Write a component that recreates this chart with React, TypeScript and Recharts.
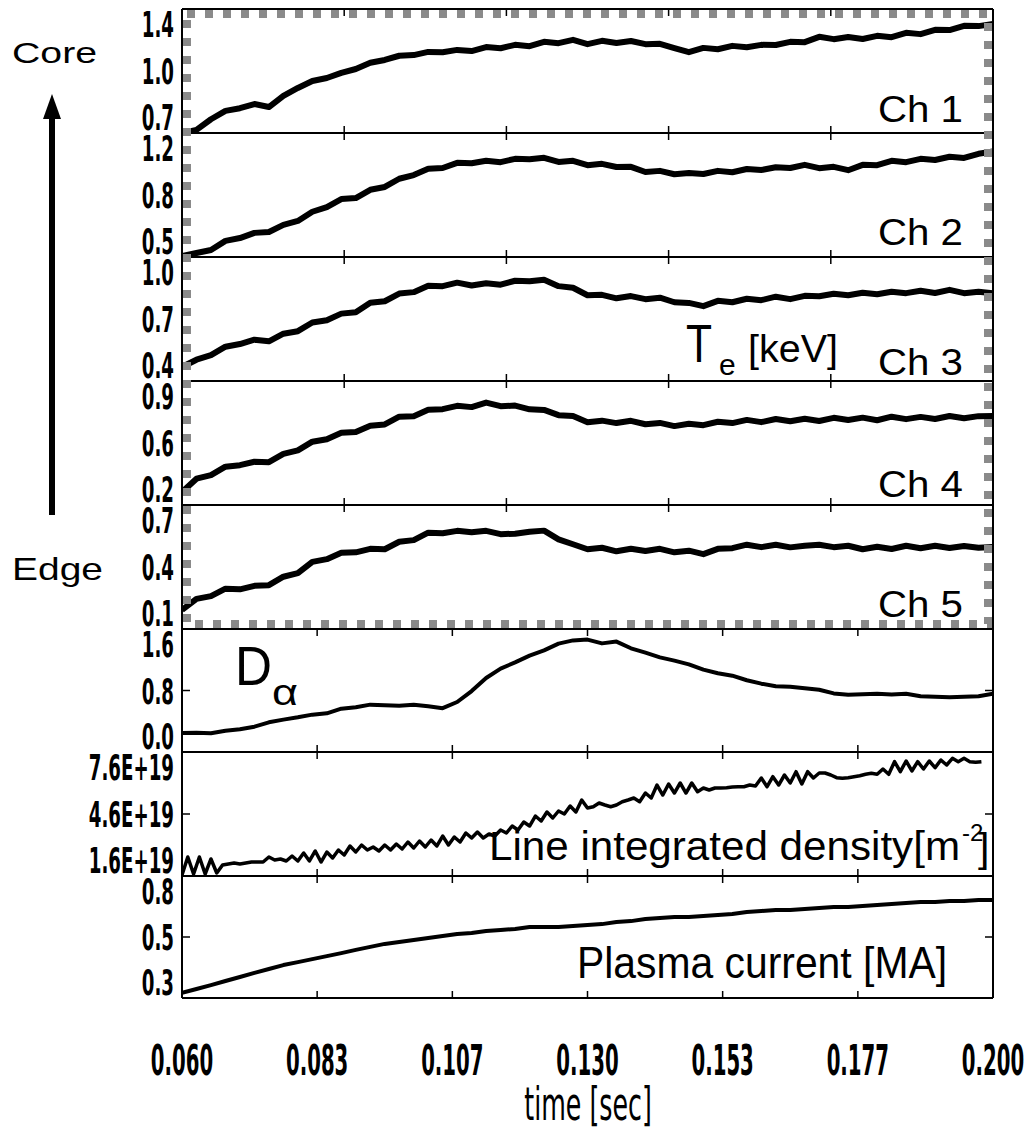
import React from 'react';
import { Line, LineChart, ReferenceLine, XAxis, YAxis } from 'recharts';

// sample times [s]
const time = [
  0.06, 0.0625, 0.065, 0.0675, 0.07, 0.0725, 0.075, 0.0775, 0.08, 0.0825,
  0.085, 0.0875, 0.09, 0.0925, 0.095, 0.0975, 0.1, 0.1025, 0.105, 0.1075,
  0.11, 0.1125, 0.115, 0.1175, 0.12, 0.1225, 0.125, 0.1275, 0.13, 0.1325,
  0.135, 0.1375, 0.14, 0.1425, 0.145, 0.1475, 0.15, 0.1525, 0.155, 0.1575,
  0.16, 0.1625, 0.165, 0.1675, 0.17, 0.1725, 0.175, 0.1775, 0.18, 0.1825,
  0.185, 0.1875, 0.19, 0.1925, 0.195, 0.1975, 0.2,
];

// interferometer is sampled on its own grid
const densityTime = [
  0.06, 0.061, 0.062, 0.063, 0.064, 0.065, 0.066, 0.067, 0.068, 0.069,
  0.07, 0.071, 0.072, 0.073, 0.074, 0.075, 0.076, 0.077, 0.078, 0.079,
  0.08, 0.081, 0.082, 0.083, 0.084, 0.085, 0.086, 0.087, 0.088, 0.089,
  0.09, 0.091, 0.092, 0.093, 0.094, 0.095, 0.096, 0.097, 0.098, 0.099,
  0.1, 0.101, 0.102, 0.103, 0.104, 0.105, 0.106, 0.107, 0.108, 0.109,
  0.11, 0.111, 0.112, 0.113, 0.114, 0.115, 0.116, 0.117, 0.118, 0.119,
  0.12, 0.121, 0.122, 0.123, 0.124, 0.125, 0.126, 0.127, 0.128, 0.129,
  0.13, 0.131, 0.132, 0.133, 0.134, 0.135, 0.136, 0.137, 0.138, 0.139,
  0.14, 0.141, 0.142, 0.143, 0.144, 0.145, 0.146, 0.147, 0.148, 0.149,
  0.15, 0.151, 0.152, 0.153, 0.154, 0.155, 0.156, 0.157, 0.158, 0.159,
  0.16, 0.161, 0.162, 0.163, 0.164, 0.165, 0.166, 0.167, 0.168, 0.169,
  0.17, 0.171, 0.172, 0.173, 0.174, 0.175, 0.176, 0.177, 0.178, 0.179,
  0.18, 0.181, 0.182, 0.183, 0.184, 0.185, 0.186, 0.187, 0.188, 0.189,
  0.19, 0.191, 0.192, 0.193, 0.194, 0.195, 0.196, 0.197, 0.198,
];

// Te [keV], ECE channels core -> edge
const ch1Te = [
  0.66, 0.679, 0.742, 0.792, 0.808, 0.833, 0.815, 0.881, 0.929, 0.97,
  0.988, 1.019, 1.042, 1.079, 1.096, 1.121, 1.125, 1.144, 1.142, 1.156,
  1.149, 1.173, 1.166, 1.186, 1.178, 1.204, 1.196, 1.216, 1.19, 1.21,
  1.197, 1.209, 1.19, 1.192, 1.166, 1.142, 1.168, 1.16, 1.18, 1.172,
  1.186, 1.185, 1.204, 1.202, 1.234, 1.22, 1.233, 1.221, 1.24, 1.232,
  1.258, 1.25, 1.276, 1.274, 1.3, 1.298, 1.311,
];
const ch2Te = [
  0.466, 0.484, 0.502, 0.556, 0.573, 0.604, 0.609, 0.652, 0.675, 0.73,
  0.758, 0.806, 0.812, 0.861, 0.878, 0.927, 0.949, 0.986, 0.991, 1.022,
  1.019, 1.034, 1.026, 1.046, 1.044, 1.052, 1.027, 1.034, 1.008, 1.016,
  0.997, 0.998, 0.967, 0.974, 0.954, 0.961, 0.955, 0.974, 0.966, 0.985,
  0.979, 0.996, 0.991, 1.01, 0.99, 0.998, 0.978, 1.01, 1.008, 1.034,
  1.026, 1.046, 1.039, 1.058, 1.051, 1.076, 1.09,
];
const ch3Te = [
  0.468, 0.503, 0.525, 0.566, 0.579, 0.6, 0.592, 0.629, 0.641, 0.683,
  0.694, 0.726, 0.733, 0.779, 0.786, 0.823, 0.83, 0.861, 0.859, 0.876,
  0.862, 0.873, 0.866, 0.885, 0.883, 0.89, 0.859, 0.851, 0.815, 0.817,
  0.8, 0.811, 0.796, 0.803, 0.781, 0.778, 0.762, 0.788, 0.781, 0.798,
  0.791, 0.808, 0.796, 0.812, 0.81, 0.822, 0.815, 0.827, 0.82, 0.832,
  0.825, 0.837, 0.826, 0.841, 0.825, 0.832, 0.824,
];
const ch4Te = [
  0.309, 0.38, 0.399, 0.444, 0.452, 0.47, 0.468, 0.512, 0.531, 0.577,
  0.59, 0.625, 0.628, 0.662, 0.669, 0.71, 0.713, 0.747, 0.75, 0.768,
  0.761, 0.785, 0.766, 0.769, 0.749, 0.746, 0.718, 0.714, 0.681, 0.689,
  0.676, 0.688, 0.67, 0.677, 0.66, 0.672, 0.665, 0.683, 0.676, 0.693,
  0.681, 0.698, 0.686, 0.699, 0.687, 0.704, 0.692, 0.705, 0.691, 0.71,
  0.697, 0.709, 0.698, 0.714, 0.702, 0.713, 0.714,
];
const ch5Te = [
  0.192, 0.246, 0.259, 0.295, 0.292, 0.309, 0.312, 0.353, 0.37, 0.425,
  0.438, 0.469, 0.471, 0.488, 0.486, 0.522, 0.53, 0.566, 0.563, 0.575,
  0.568, 0.575, 0.559, 0.561, 0.571, 0.576, 0.534, 0.51, 0.486, 0.493,
  0.476, 0.488, 0.477, 0.488, 0.471, 0.479, 0.462, 0.488, 0.491, 0.508,
  0.496, 0.508, 0.495, 0.503, 0.508, 0.496, 0.503, 0.486, 0.498, 0.487,
  0.503, 0.491, 0.503, 0.492, 0.502, 0.493, 0.497,
];
const dAlpha = [
  0.247, 0.25, 0.245, 0.276, 0.296, 0.329, 0.386, 0.421, 0.451, 0.486,
  0.503, 0.563, 0.581, 0.616, 0.607, 0.602, 0.615, 0.594, 0.57, 0.65,
  0.793, 0.963, 1.085, 1.166, 1.253, 1.322, 1.41, 1.452, 1.462, 1.413,
  1.436, 1.349, 1.292, 1.231, 1.188, 1.14, 1.071, 1.024, 0.993, 0.933,
  0.889, 0.855, 0.85, 0.829, 0.81, 0.762, 0.745, 0.75, 0.758, 0.749,
  0.757, 0.724, 0.719, 0.711, 0.718, 0.725, 0.758,
];
// line integrated density in 1E+19 m^-2
const densityE19 = [
  1.648, 2.519, 1.697, 2.519, 1.697, 2.423, 1.745, 2.132, 2.181, 2.229,
  2.181, 2.229, 2.277, 2.277, 2.277, 2.519, 2.374, 2.423, 2.326, 2.568,
  2.326, 2.713, 2.326, 2.81, 2.277, 2.761, 2.471, 2.858, 2.616, 3.052,
  2.761, 3.1, 2.858, 3.003, 2.81, 3.1, 2.858, 3.148, 2.906, 3.245,
  2.955, 3.294, 3.003, 3.342, 3.052, 3.535, 3.1, 3.487, 3.245, 3.681,
  3.439, 3.729, 3.439, 3.632, 3.535, 3.826, 3.681, 4.019, 3.826, 4.213,
  4.019, 4.503, 4.261, 4.697, 4.406, 4.745, 4.6, 4.987, 4.697, 5.277,
  4.89, 4.953, 5.132, 5.035, 4.953, 5.035, 5.195, 5.277, 5.374, 5.195,
  5.616, 5.374, 6.003, 5.519, 6.052, 5.616, 6.1, 5.616, 6.1, 5.679,
  5.858, 5.761, 5.858, 5.858, 5.873, 5.906, 5.921, 5.921, 6.003, 5.955,
  6.342, 5.921, 6.405, 6.003, 6.487, 6.1, 6.647, 6.052, 6.647, 6.342,
  6.584, 6.584, 6.487, 6.356, 6.327, 6.356, 6.405, 6.453, 6.521, 6.569,
  6.521, 6.777, 6.521, 7.131, 6.647, 7.165, 6.681, 7.131, 6.777, 7.165,
  6.84, 7.213, 6.971, 7.295, 7.131, 7.295, 7.131, 7.102, 7.131,
];
const plasmaCurrentMA = [
  0.292, 0.309, 0.326, 0.344, 0.361, 0.379, 0.396, 0.413, 0.426, 0.439,
  0.452, 0.465, 0.479, 0.492, 0.505, 0.513, 0.522, 0.531, 0.539, 0.548,
  0.552, 0.561, 0.565, 0.57, 0.578, 0.578, 0.578, 0.583, 0.587, 0.591,
  0.6, 0.604, 0.613, 0.618, 0.622, 0.622, 0.626, 0.631, 0.635, 0.644,
  0.648, 0.652, 0.652, 0.657, 0.661, 0.665, 0.665, 0.67, 0.674, 0.678,
  0.683, 0.687, 0.687, 0.691, 0.691, 0.696, 0.696,
];

// axis ticks and labels
const xTicks = [0.06, 0.08333, 0.10667, 0.13, 0.15333, 0.17667, 0.2];
const xTickLabels = ['0.060', '0.083', '0.107', '0.130', '0.153', '0.177', '0.200'];
const teXTicks = [0.06, 0.088, 0.116, 0.144, 0.172, 0.2];

const ch1Ticks = [0.66, 1.03, 1.4];
const ch1Labels = ['0.7', '1.0', '1.4'];
const ch2Ticks = [0.46, 0.83, 1.2];
const ch2Labels = ['0.5', '0.8', '1.2'];
const ch3Ticks = [0.4, 0.7, 1.0];
const ch3Labels = ['0.4', '0.7', '1.0'];
const ch4Ticks = [0.24, 0.57, 0.9];
const ch4Labels = ['0.2', '0.6', '0.9'];
const ch5Ticks = [0.1, 0.4, 0.7];
const ch5Labels = ['0.1', '0.4', '0.7'];
const dAlphaTicks = [0, 0.8, 1.6];
const dAlphaLabels = ['0.0', '0.8', '1.6'];
const densityTicks = [1.6, 4.6, 7.6];
const densityLabels = ['1.6E+19', '4.6E+19', '7.6E+19'];
const currentTicks = [0.27, 0.535, 0.8];
const currentLabels = ['0.3', '0.5', '0.8'];

const rows = (ts: number[], vs: number[]) => ts.map((t, i) => ({ t, v: vs[i] }));

const T0 = 0.06;
const T1 = 0.2;
const CHART_W = 1033;
const AXIS_W = 182;
const RIGHT = 40;
const PLOT_W = CHART_W - AXIS_W - RIGHT;
const PAD = 6;
const X_LABEL_H = 135;
const TICK_LEN = 7;
const tickFont = 'DejaVu Sans, Verdana, sans-serif';
const textFont = 'Liberation Sans, Arial, Helvetica, sans-serif';

interface Panel {
  id: string;
  top: number;
  bottom: number;
  data: { t: number; v: number }[];
  ticks: number[];
  labels: string[];
  xTicks: number[];
  midTicks: boolean;
  lineWidth: number;
  last?: boolean;
}

const panels: Panel[] = [
  { id: 'ch1', top: 9, bottom: 133, data: rows(time, ch1Te), ticks: ch1Ticks, labels: ch1Labels, xTicks: teXTicks, midTicks: false, lineWidth: 6 },
  { id: 'ch2', top: 133, bottom: 257, data: rows(time, ch2Te), ticks: ch2Ticks, labels: ch2Labels, xTicks: teXTicks, midTicks: false, lineWidth: 6 },
  { id: 'ch3', top: 257, bottom: 381, data: rows(time, ch3Te), ticks: ch3Ticks, labels: ch3Labels, xTicks: teXTicks, midTicks: false, lineWidth: 6 },
  { id: 'ch4', top: 381, bottom: 505, data: rows(time, ch4Te), ticks: ch4Ticks, labels: ch4Labels, xTicks: teXTicks, midTicks: false, lineWidth: 6 },
  { id: 'ch5', top: 505, bottom: 629, data: rows(time, ch5Te), ticks: ch5Ticks, labels: ch5Labels, xTicks: teXTicks, midTicks: false, lineWidth: 6 },
  { id: 'da', top: 629, bottom: 752, data: rows(time, dAlpha), ticks: dAlphaTicks, labels: dAlphaLabels, xTicks: xTicks, midTicks: true, lineWidth: 4 },
  { id: 'ne', top: 752, bottom: 876, data: rows(densityTime, densityE19), ticks: densityTicks, labels: densityLabels, xTicks: xTicks, midTicks: true, lineWidth: 3.5 },
  { id: 'ip', top: 876, bottom: 998, data: rows(time, plasmaCurrentMA), ticks: currentTicks, labels: currentLabels, xTicks: xTicks, midTicks: true, lineWidth: 4, last: true },
];

const YLabel = (props: any) => {
  const { y, payload, ticks, labels } = props;
  const i = ticks.findIndex((v: number) => Math.abs(v - payload.value) < 1e-9);
  if (i < 0) return null;
  // end labels sit inside the panel, as in the original plot
  let base = y + 13;
  if (i === 0) base = y - 3;
  if (i === ticks.length - 1) base = y + 28;
  return (
    <text
      transform={`translate(174, ${base}) scale(0.52, 1)`}
      textAnchor="end"
      fontFamily={tickFont}
      fontWeight="bold"
      fontSize={35}
      fill="#000"
    >
      {labels[i]}
    </text>
  );
};

const XLabel = (props: any) => {
  const { x, y, payload } = props;
  const i = xTicks.findIndex((v) => Math.abs(v - payload.value) < 1e-9);
  if (i < 0) return null;
  return (
    <text
      transform={`translate(${x}, ${y + 47}) scale(0.47, 1)`}
      textAnchor="middle"
      fontFamily={tickFont}
      fontWeight="bold"
      fontSize={42}
      fill="#000"
    >
      {xTickLabels[i]}
    </text>
  );
};

const PanelChart = ({ p }: { p: Panel }) => {
  const h = p.bottom - p.top;
  const extra = p.last ? X_LABEL_H : 0;
  const lo = p.ticks[0];
  const hi = p.ticks[p.ticks.length - 1];
  const mid = p.ticks[1];
  const dy = ((hi - lo) * TICK_LEN) / h;
  const dx = ((T1 - T0) * (TICK_LEN + 1)) / PLOT_W;
  const inner = p.xTicks.slice(1, -1);
  const frame = { xAxisId: 'b', yAxisId: 'v', stroke: '#000', strokeWidth: 2, ifOverflow: 'visible' as const };
  const tick = { xAxisId: 'b', yAxisId: 'v', stroke: '#000', strokeWidth: 1.5, ifOverflow: 'visible' as const };
  return (
    <div style={{ position: 'absolute', left: 0, top: p.top - PAD }}>
      <LineChart
        width={CHART_W}
        height={h + 2 * PAD + extra}
        data={p.data}
        margin={{ top: PAD, right: RIGHT, bottom: PAD, left: 0 }}
      >
        <XAxis xAxisId="b" dataKey="t" type="number" domain={[T0, T1]} allowDataOverflow hide />
        {p.last && (
          <XAxis
            xAxisId="lab"
            dataKey="t"
            type="number"
            domain={[T0, T1]}
            allowDataOverflow
            orientation="bottom"
            height={extra}
            ticks={xTicks}
            interval={0}
            tick={<XLabel />}
            tickSize={0}
            tickMargin={0}
            tickLine={false}
            axisLine={false}
          />
        )}
        <YAxis
          yAxisId="v"
          orientation="left"
          width={AXIS_W}
          type="number"
          domain={[lo, hi]}
          allowDataOverflow
          ticks={p.ticks}
          interval={0}
          tick={(tp: any) => <YLabel {...tp} ticks={p.ticks} labels={p.labels} />}
          tickLine={false}
          axisLine={false}
        />

        {/* panel frame */}
        <ReferenceLine {...frame} y={lo} />
        <ReferenceLine {...frame} y={hi} />
        <ReferenceLine {...frame} x={T0} />
        <ReferenceLine {...frame} x={T1} />

        {/* time ticks on the lower and upper edge, pointing inwards */}
        {inner.map((t) => (
          <ReferenceLine key={`b${t}`} {...tick} segment={[{ x: t, y: lo }, { x: t, y: lo + dy }]} />
        ))}
        {inner.map((t) => (
          <ReferenceLine key={`t${t}`} {...tick} segment={[{ x: t, y: hi }, { x: t, y: hi - dy }]} />
        ))}
        {p.midTicks && (
          <ReferenceLine {...tick} segment={[{ x: T0, y: mid }, { x: T0 + dx, y: mid }]} />
        )}
        {p.midTicks && (
          <ReferenceLine {...tick} segment={[{ x: T1, y: mid }, { x: T1 - dx, y: mid }]} />
        )}

        <Line
          xAxisId="b"
          yAxisId="v"
          type="linear"
          dataKey="v"
          stroke="#000"
          strokeWidth={p.lineWidth}
          strokeLinejoin="round"
          dot={false}
          isAnimationActive={false}
        />
      </LineChart>
    </div>
  );
};

const Overlay = () => (
  <svg
    width={CHART_W}
    height={1133}
    style={{ position: 'absolute', left: 0, top: 0, pointerEvents: 'none' }}
  >
    {/* shaded frame round the Te channels */}
    <rect
      x={187}
      y={14}
      width={801}
      height={610}
      fill="none"
      stroke="#8a8a8a"
      strokeWidth={8}
      strokeDasharray="8 10"
    />

    <text x={12} y={63} fontFamily={textFont} fontSize={29} textLength={85} lengthAdjust="spacingAndGlyphs">
      Core
    </text>
    <line x1={52} y1={112} x2={52} y2={515} stroke="#000" strokeWidth={6} />
    <polygon points="52,94 43,119 61,119" fill="#000" />
    <text x={12} y={580} fontFamily={textFont} fontSize={32} textLength={91} lengthAdjust="spacingAndGlyphs">
      Edge
    </text>

    {['Ch 1', 'Ch 2', 'Ch 3', 'Ch 4', 'Ch 5'].map((c, i) => (
      <text
        key={c}
        x={963}
        y={[122, 245, 375, 497, 617][i]}
        textAnchor="end"
        fontFamily={textFont}
        fontSize={37}
        textLength={85}
        lengthAdjust="spacingAndGlyphs"
      >
        {c}
      </text>
    ))}

    <text x={686} y={362} fontFamily={textFont} fontSize={54} textLength={26} lengthAdjust="spacingAndGlyphs">
      T
    </text>
    <text x={719} y={375} fontFamily={textFont} fontSize={30}>
      e
    </text>
    <text x={748} y={362} fontFamily={textFont} fontSize={38} textLength={90} lengthAdjust="spacingAndGlyphs">
      [keV]
    </text>

    <text x={235} y={685} fontFamily={textFont} fontSize={55} textLength={37} lengthAdjust="spacingAndGlyphs">
      D
    </text>
    <text x={272} y={705} fontFamily={textFont} fontSize={36} textLength={26} lengthAdjust="spacingAndGlyphs">
      α
    </text>

    <text x={489} y={860} fontFamily={textFont} fontSize={41} textLength={471} lengthAdjust="spacingAndGlyphs">
      Line integrated density[m
    </text>
    <text x={962} y={841} fontFamily={textFont} fontSize={24}>
      -2
    </text>
    <text x={978} y={862} fontFamily={textFont} fontSize={41}>
      ]
    </text>

    <text x={577} y={978} fontFamily={textFont} fontSize={44} textLength={370} lengthAdjust="spacingAndGlyphs">
      Plasma current [MA]
    </text>

    <text
      transform="translate(588, 1120) scale(0.55, 1)"
      textAnchor="middle"
      fontFamily={tickFont}
      fontSize={46}
      fill="#000"
    >
      time [sec]
    </text>
  </svg>
);

const App = () => (
  <div
    style={{
      position: 'absolute',
      left: 0,
      top: 0,
      width: CHART_W,
      height: 1133,
      background: '#fff',
    }}
  >
    {panels.map((p) => (
      <PanelChart key={p.id} p={p} />
    ))}
    <Overlay />
  </div>
);

export default App;
